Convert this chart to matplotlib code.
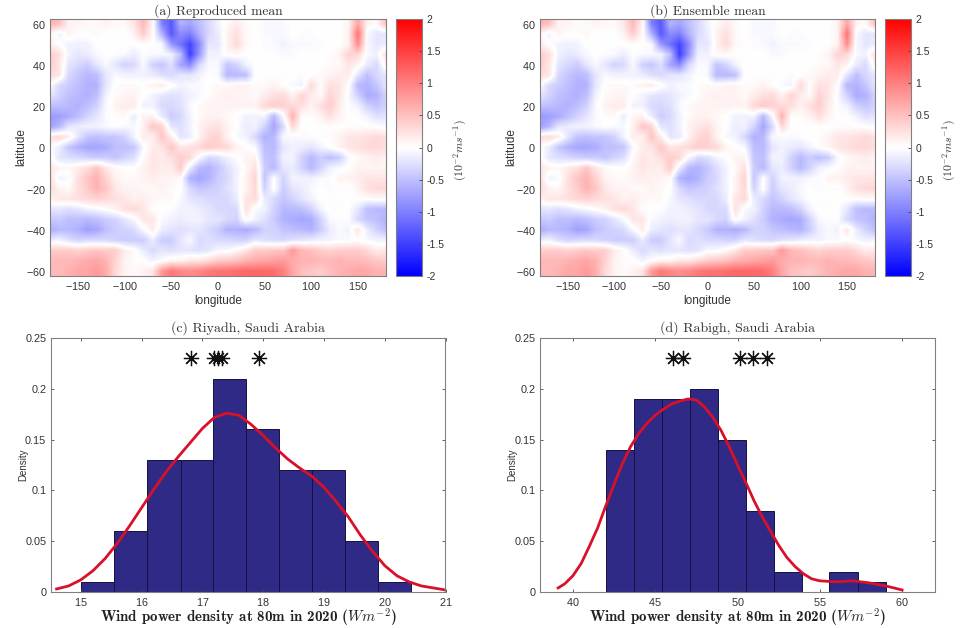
import numpy as np
import matplotlib
matplotlib.use('Agg')
import matplotlib.pyplot as plt

plt.rcParams['font.family'] = ['Liberation Sans', 'DejaVu Sans']
plt.rcParams['axes.unicode_minus'] = False
plt.rcParams['axes.formatter.use_mathtext'] = True

W, H = 962, 628

# map values, lon -180..180 every 10, lat 60..-60 every 5
lons = np.arange(-180, 181, 10)
lats = np.arange(60, -61, -5)
reproduced_mean = [
    [.6, .5, .1, .1, .05, .05, .1, .05, .05, .2, .55, .1, -1.0, -1.3, -.6, -.7, -.5, -.3, -.1, .05, .15, .05, 0, -.05, -.05, -.05, 0, 0, 0, 0, 0, 0, .1, .7, .1, .05, .5],
    [.1, -.1, .1, 0, .02, .05, 0, 0, 0, .1, .4, .05, -.6, -1.3, -.9, -1.0, -.6, -.3, -.15, .1, .25, .05, 0, -.05, -.05, -.05, 0, -.03, -.03, 0, 0, 0, .1, 1.1, -.05, -.2, -.2],
    [.15, 0, -.1, -.1, -.1, 0, 0, 0, 0, 0, .02, 0, -.05, -.8, -1.1, -1.45, -.9, -.2, -.2, .1, .3, .05, .02, -.03, -.05, -.1, -.05, -.05, -.05, -.03, 0, 0, .1, .9, -.05, -.2, -.15],
    [.4, .25, -.1, -.2, -.15, -.05, 0, -.02, -.05, -.15, -.02, -.05, -.05, -.1, -.5, -1.5, -.8, -.1, -.1, .05, .05, 0, 0, 0, 0, -.05, -.05, 0, 0, 0, .02, .1, .35, .3, -.05, -.1, .25],
    [.4, .2, -.2, -.3, -.4, -.2, -.05, -.2, -.35, -.3, -.05, -.35, -.45, -.25, -.7, -.9, -.3, -.05, -.05, -.45, -.35, -.1, 0, 0, 0, 0, 0, 0, 0, 0, .05, .05, .2, .1, -.15, -.3, .1],
    [.3, .2, -.3, -.45, -.55, -.5, -.2, -.05, -.1, -.1, -.1, -.15, -.25, -.3, -.2, -.2, -.1, 0, -.05, -.55, -.55, -.5, .02, 0, .02, .02, 0, -.03, 0, .05, .1, .15, .15, -.2, -.5, -.3, -.2],
    [0, -.3, -.4, -.5, -.6, -.6, -.2, .02, .05, .05, .02, .1, .15, .02, -.1, -.05, -.05, .02, .05, .05, .1, .1, .03, .05, .1, .02, -.05, -.1, .3, .02, .25, .2, .02, -.55, -.6, -.45, -.2],
    [-.2, -.35, -.5, -.55, -.6, -.5, -.1, .05, .08, .1, 0, -.1, -.2, -.25, -.2, -.1, -.05, .02, .1, .12, .1, .1, .05, .15, .25, .3, .1, .35, .15, .05, .35, .2, -.05, -.35, -.65, -.6, -.35],
    [-.5, -.5, -.55, -.6, -.5, -.35, -.05, .1, .15, .15, -.1, -.1, -.3, -.3, -.25, -.05, .05, .1, .1, .1, .1, .1, .1, .3, .4, .35, .3, .25, .1, .25, .4, .15, -.02, -.1, -.35, -.45, -.35],
    [-.8, -.75, -.65, -.5, -.35, -.2, -.05, .02, .05, -.15, .1, .1, -.15, -.4, -.3, -.1, .05, .1, .1, .05, 0, -.1, -.1, -.1, -.55, -.05, .6, .02, .02, .1, .25, .1, 0, 0, -.1, -.25, -.2],
    [-.75, -.55, -.2, -.15, -.1, -.1, -.05, 0, -.05, -.05, .1, .45, .35, -.2, -.25, -.1, .1, .2, .25, .1, 0, -.15, -.1, -.35, -.7, -.3, .3, 0, 0, 0, .02, 0, .03, .03, .02, 0, -.05],
    [.25, .3, .15, -.2, -.45, -.5, -.45, -.45, -.35, -.1, .15, .1, .45, .15, -.2, -.15, .1, .3, .35, .1, -.05, -.1, -.3, -.6, -.55, -.05, -.05, -.05, -.02, .02, .03, .1, .2, .2, .25, .3, .25],
    [0, -.15, -.45, -.6, -.7, -.7, -.65, -.5, -.5, -.45, -.05, .15, .2, .45, .2, .25, .3, .4, .35, .3, .1, .02, -.05, -.5, -.55, -.2, -.1, -.15, -.2, -.1, 0, .1, .2, .25, .3, .3, .25],
    [.05, -.2, -.25, -.3, -.35, -.4, -.4, -.45, -.35, -.25, .05, .2, .15, .25, .4, .3, -.05, -.3, -.25, -.1, -.02, .1, .1, -.45, -.5, -.1, -.1, -.35, -.55, -.4, -.5, -.4, -.05, .05, .1, .15, .1],
    [.2, .1, .05, .15, .25, .45, .2, .05, .02, 0, .1, .2, .15, .15, .4, -.15, -.55, -.6, -.45, -.25, -.1, .05, .25, -.4, -.55, -.2, -.15, -.35, -.55, -.35, -.1, -.05, .02, .1, .1, .1, .1],
    [.25, -.1, -.05, .25, .45, .6, .35, .1, .05, .05, .1, .15, .1, .1, .05, -.6, -.7, -.6, -.4, -.3, -.1, .1, .35, -.45, 0, -.35, -.1, -.1, -.1, -.05, -.03, .1, .1, .15, .2, .2, .2],
    [.3, .1, .05, .25, .4, .6, .45, .2, .1, .1, .05, .05, .1, .05, 0, -.3, -.45, -.4, -.35, -.25, -.1, .1, .3, -.35, .02, -.4, -.2, -.15, -.05, 0, -.05, -.02, -.02, .1, .25, .3, .3],
    [.1, .2, .2, .25, .3, .35, .3, .25, .2, .1, .15, .08, .05, .05, -.05, -.2, -.25, -.3, -.3, -.3, -.15, .2, .3, -.15, -.3, -.45, -.35, -.2, -.1, 0, .03, .03, 0, .02, .02, .05, .05],
    [-.2, -.2, -.25, -.2, -.1, -.05, .02, .1, .25, .3, .2, .02, 0, -.02, -.1, -.1, -.15, -.2, -.3, -.3, -.3, .25, -.05, -.1, -.35, -.55, -.55, -.5, -.35, -.1, .02, .03, 0, -.2, -.5, -.55, -.55],
    [-.45, -.4, -.5, -.5, -.55, -.5, -.4, -.35, -.2, -.05, .2, .2, -.05, -.1, -.15, -.1, -.1, -.2, -.2, -.3, -.35, .05, -.1, -.25, -.4, -.6, -.65, -.7, -.65, -.35, -.05, -.02, -.02, -.3, -.45, -.5, -.6],
    [-.65, -.55, -.55, -.6, -.75, -.7, -.5, -.4, -.35, -.3, -.05, .15, -.15, -.2, -.25, -.2, -.2, -.3, -.4, -.6, -.6, -.65, -.55, -.35, -.35, -.45, -.5, -.55, -.6, -.4, -.15, -.05, -.1, .2, -.15, -.35, -.5],
    [-.15, -.1, -.25, -.35, -.3, -.3, -.3, -.35, -.4, -.4, -.4, -.15, -.4, -.4, -.2, -.05, -.3, -.25, -.3, -.3, -.35, -.35, -.2, -.25, -.3, -.3, -.25, -.2, -.15, -.1, -.1, -.05, -.05, 0, -.05, -.1, -.1],
    [.4, .4, .4, .35, .4, .45, .4, .4, .15, .05, -.15, -.3, -.2, -.25, -.2, -.2, -.25, -.2, -.05, -.05, .05, .2, .4, .4, .45, .45, .8, .55, .5, .4, .35, .4, .4, .4, .3, .15, .2],
    [.55, .55, .55, .6, .65, .7, .6, .35, .1, .02, .02, -.1, -.02, .1, .1, .2, .2, .3, .4, .45, .5, .6, .65, .7, .75, .8, .65, .6, .6, .55, .55, .6, .55, .55, .5, .45, .4],
    [.55, .55, .6, .7, .7, .8, .65, .3, .1, .05, .1, .2, .8, 1.05, .95, .9, .95, 1.05, 1.1, 1.1, 1.15, 1.2, 1.2, 1.2, 1.15, 1.0, .7, .5, .45, .4, .5, .6, .65, .7, .7, .6, .6],
]
ensemble_mean = reproduced_mean
cbar_ticks = [-2, -1.5, -1, -0.5, 0, 0.5, 1, 1.5, 2]
cbar_labels = ['-2', '-1.5', '-1', '-0.5', '0', '0.5', '1', '1.5', '2']
map_xticks = [-150, -100, -50, 0, 50, 100, 150]
map_yticks = [-60, -40, -20, 0, 20, 40, 60]

# histogram and density curve, Riyadh
riyadh_edges = [15.0, 15.54, 16.09, 16.64, 17.17, 17.72, 18.26, 18.81, 19.35, 19.89, 20.43]
riyadh_hist = [.01, .06, .13, .13, .21, .16, .12, .12, .05, .01]
riyadh_x = [14.6, 14.8, 15, 15.2, 15.4, 15.6, 15.8, 16, 16.2, 16.4, 16.6, 16.8, 17, 17.2, 17.4, 17.6, 17.8, 18, 18.2, 18.4, 18.6, 18.8, 19, 19.2, 19.4, 19.6, 19.8, 20, 20.2, 20.4, 20.6, 20.8, 21]
riyadh_y = [.003, .006, .012, .021, .033, .048, .065, .083, .101, .118, .133, .147, .161, .172, .176, .174, .165, .154, .142, .131, .122, .114, .103, .089, .074, .056, .040, .026, .016, .010, .006, .004, .002]
riyadh_stars = [16.82, 17.19, 17.26, 17.33, 17.93]

# histogram and density curve, Rabigh
rabigh_edges = [42.0, 43.74, 45.4, 47.1, 48.82, 50.52, 52.22, 53.92, 55.57, 57.3, 59.02]
rabigh_hist = [.14, .19, .19, .20, .15, .08, .02, 0, .02, .01]
rabigh_x = [39.1, 39.5, 40, 40.5, 41, 41.5, 42, 42.5, 43, 43.5, 44, 44.5, 45, 45.5, 46, 46.5, 47, 47.5, 48, 48.5, 49, 49.5, 50, 50.5, 51, 51.5, 52, 52.5, 53, 53.5, 54, 54.5, 55, 56, 57, 58, 59, 60]
rabigh_y = [.004, .008, .016, .028, .045, .063, .085, .106, .126, .143, .156, .166, .174, .180, .185, .188, .190, .189, .182, .172, .159, .143, .125, .108, .090, .074, .060, .046, .034, .025, .018, .013, .011, .010, .011, .009, .006, .002]
rabigh_stars = [46.11, 46.68, 50.16, 50.97, 51.78]

hist_yticks = [0, .05, .1, .15, .2, .25]
hist_ylabels = ['0', '0.05', '0.1', '0.15', '0.2', '0.25']
bar_color = '#2e2a85'
line_color = '#d9102a'
box_color = '#808080'


def px_axes(left, top, right, bottom):
    return fig.add_axes([left / W, 1 - bottom / H, (right - left) / W, (bottom - top) / H])


def style(ax):
    for s in ax.spines.values():
        s.set_color(box_color)
    ax.tick_params(direction='in', length=2.5, width=0.6, labelsize=7.8, color='#444444',
                   labelcolor='#333333', top=True, right=True, pad=3)


def draw_map(field, left, right, title):
    ax = px_axes(left, 19, right, 276)
    im = ax.imshow(field, cmap='bwr', vmin=-2, vmax=2, aspect='auto', interpolation='bilinear',
                   extent=[lons[0] - 5, lons[-1] + 5, lats[-1] - 2.5, lats[0] + 2.5])
    ax.set_xlim(-180, 180)
    ax.set_ylim(-62.4, 62.2)
    ax.set_xticks(map_xticks)
    ax.set_yticks(map_yticks)
    style(ax)
    ax.tick_params(length=0)
    ax.set_xlabel('longitude', fontsize=8.5, color='#333333', labelpad=2)
    ax.set_ylabel('latitude', fontsize=8.5, color='#333333', labelpad=-1)
    ax.set_title(title, family='cmr10', fontsize=9.8, color='#333333', pad=3)
    cax = px_axes(right + 10, 19, right + 36, 276)
    cb = fig.colorbar(im, cax=cax)
    cb.set_ticks(cbar_ticks, labels=cbar_labels)
    cb.ax.tick_params(direction='in', length=2, width=0.6, labelsize=7.5, color='#444444', labelcolor='#333333', pad=3)
    cb.outline.set_edgecolor(box_color)
    fig.text((right + 74) / W, 1 - 150 / H, r'$(10^{-2}ms^{-1})$', rotation=90, fontsize=8.5,
             color='#333333', ha='center', va='center', math_fontfamily='cm')


def draw_hist(edges, hist, x, y, stars, left, right, xlim, xticks, title):
    ax = px_axes(left, 338, right, 592)
    ax.bar(edges[:-1], hist, width=np.diff(edges), align='edge', color=bar_color, edgecolor='#14103f', linewidth=0.7)
    ax.plot(x, y, color=line_color, linewidth=2, solid_joinstyle='round')
    ax.plot(stars, [0.23] * len(stars), linestyle='none', marker=(8, 2, 0), color='#111111', markersize=11, markeredgewidth=0.9)
    ax.set_xlim(xlim)
    ax.set_ylim(0, 0.25)
    ax.set_xticks(xticks)
    ax.set_yticks(hist_yticks, labels=hist_ylabels)
    style(ax)
    ax.set_ylabel('Density', fontsize=7, color='#333333', labelpad=-2)
    ax.set_xlabel(r'Wind power density at 80m in 2020 ($Wm^{-2}$)', family='cmb10', fontsize=10.8,
                  color='#222222', labelpad=-1, math_fontfamily='cm')
    ax.set_title(title, family='cmr10', fontsize=10, color='#333333', pad=4.5)


fig = plt.figure(figsize=(W / 100, H / 100), dpi=100)

draw_map(reproduced_mean, 50, 386, '(a) Reproduced mean')
draw_map(ensemble_mean, 540, 875, '(b) Ensemble mean')
draw_hist(riyadh_edges, riyadh_hist, riyadh_x, riyadh_y, riyadh_stars, 50.5, 445.5, (14.5, 21),
          [15, 16, 17, 18, 19, 20, 21], '(c) Riyadh, Saudi Arabia')
draw_hist(rabigh_edges, rabigh_hist, rabigh_x, rabigh_y, rabigh_stars, 540, 935, (38, 62),
          [40, 45, 50, 55, 60], '(d) Rabigh, Saudi Arabia')

fig.savefig('out.png', dpi=100)
